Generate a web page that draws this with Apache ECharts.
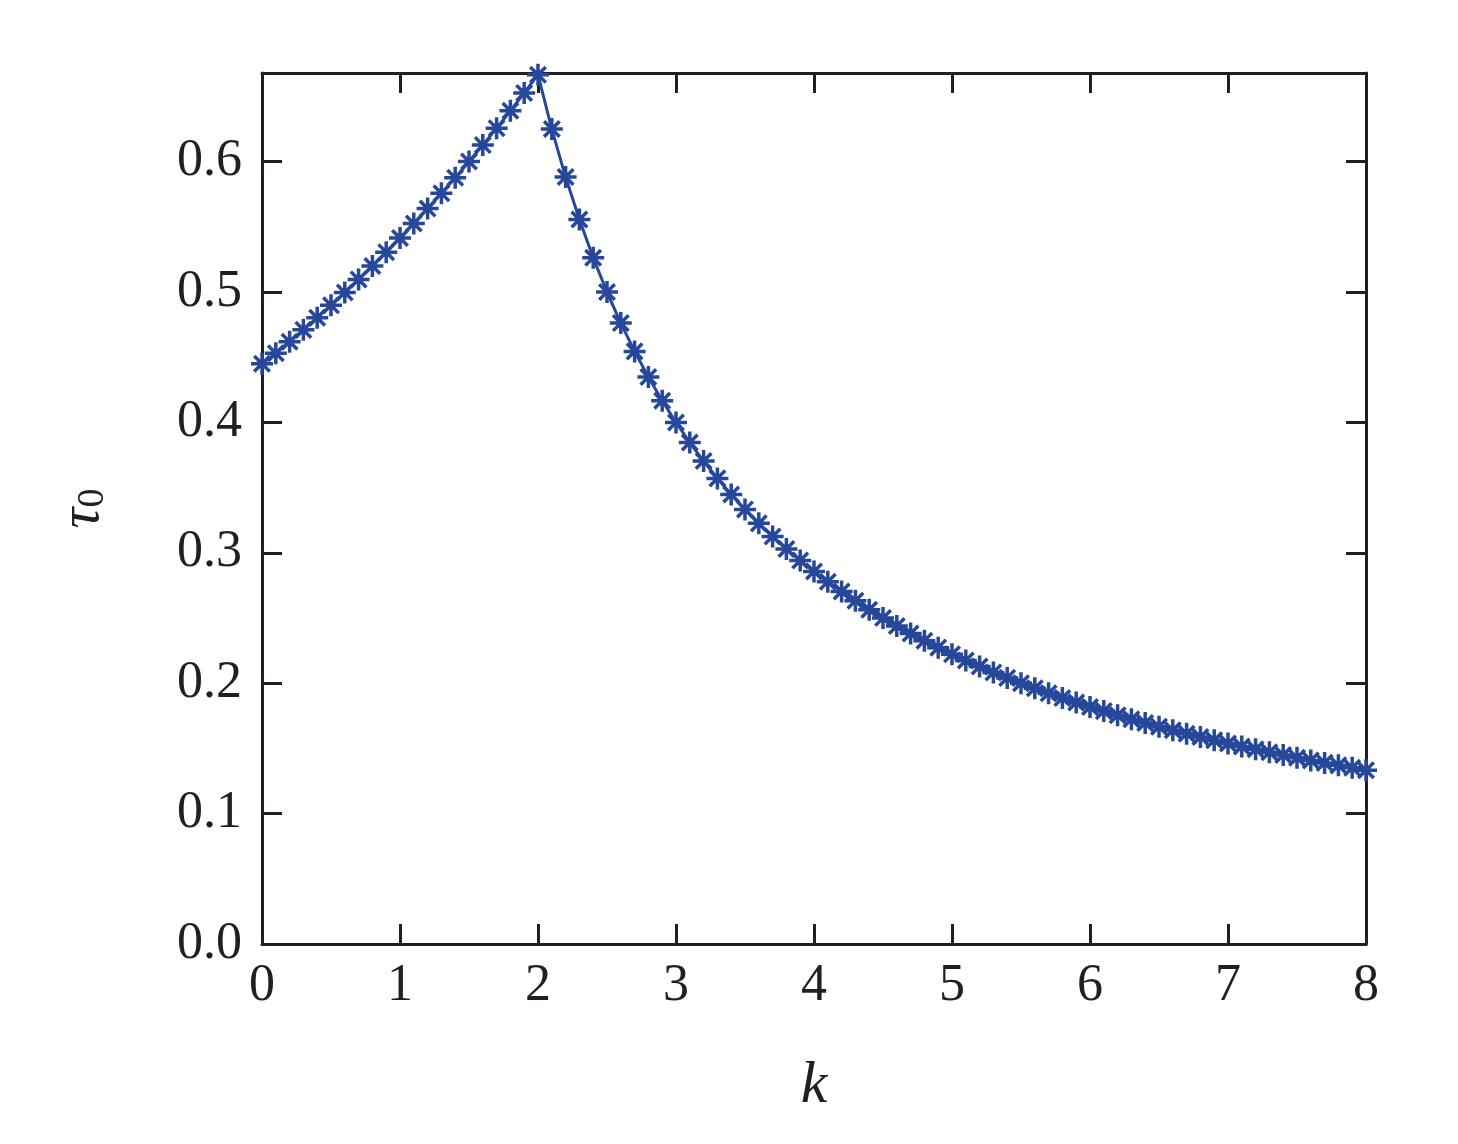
<!DOCTYPE html>
<html>
<head>
<meta charset="utf-8">
<script src="https://cdn.jsdelivr.net/npm/echarts@6/dist/echarts.min.js"></script>
<style>
html,body{margin:0;padding:0;background:#fff;}
#chart{width:1458px;height:1144px;}
</style>
</head>
<body>
<div id="chart"></div>
<script>
const kValues = [
  0.0,0.1,0.2,0.3,0.4,0.5,0.6,0.7,0.8,0.9,
  1.0,1.1,1.2,1.3,1.4,1.5,1.6,1.7,1.8,1.9,
  2.0,2.1,2.2,2.3,2.4,2.5,2.6,2.7,2.8,2.9,
  3.0,3.1,3.2,3.3,3.4,3.5,3.6,3.7,3.8,3.9,
  4.0,4.1,4.2,4.3,4.4,4.5,4.6,4.7,4.8,4.9,
  5.0,5.1,5.2,5.3,5.4,5.5,5.6,5.7,5.8,5.9,
  6.0,6.1,6.2,6.3,6.4,6.5,6.6,6.7,6.8,6.9,
  7.0,7.1,7.2,7.3,7.4,7.5,7.6,7.7,7.8,7.9,
  8.0
];
const tauValues = [
  0.445,0.4531,0.4619,0.4710,0.4803,0.4898,0.4996,0.5097,0.5200,0.5306,
  0.5414,0.5526,0.5640,0.5757,0.5877,0.6001,0.6127,0.6257,0.6390,0.6527,
  0.6667,0.6250,0.5882,0.5556,0.5263,0.5000,0.4762,0.4545,0.4348,0.4167,
  0.4000,0.3846,0.3704,0.3571,0.3448,0.3333,0.3226,0.3125,0.3030,0.2941,
  0.2857,0.2778,0.2703,0.2632,0.2564,0.2500,0.2439,0.2381,0.2326,0.2273,
  0.2222,0.2174,0.2128,0.2083,0.2041,0.2000,0.1961,0.1923,0.1887,0.1852,
  0.1818,0.1786,0.1754,0.1724,0.1695,0.1667,0.1639,0.1613,0.1587,0.1563,
  0.1538,0.1515,0.1493,0.1471,0.1449,0.1429,0.1408,0.1389,0.1370,0.1351,
  0.1333
];
const xTicks = [0,1,2,3,4,5,6,7,8];
const yTicks = [0.0,0.1,0.2,0.3,0.4,0.5,0.6];

const FONT = "'Liberation Serif','Times New Roman',serif";
const INK = '#231f20';
const BLUE = '#27479b';

const chart = echarts.init(document.getElementById('chart'), null, {renderer:'canvas'});
const mkLine = () => ({show:true, onZero:false, lineStyle:{color:INK, width:3}});
const mkTick = () => ({show:true, inside:true, length:20, lineStyle:{color:INK, width:3}});

const data = kValues.map((k,i)=>[k, tauValues[i]]);

chart.setOption({
  animation:false,
  backgroundColor:'#fff',
  grid:{left:262, right:92, top:73, bottom:200, containLabel:false},
  xAxis:[{
    type:'value', min:xTicks[0], max:xTicks[xTicks.length-1], interval:1,
    position:'bottom',
    axisLine:mkLine(), axisTick:mkTick(), splitLine:{show:false},
    axisLabel:{color:INK, fontFamily:FONT, fontSize:52, margin:16},
    name:'k', nameLocation:'middle', nameGap:112,
    nameTextStyle:{color:INK, fontFamily:FONT, fontSize:60, fontStyle:'italic'}
  },{
    type:'value', min:xTicks[0], max:xTicks[xTicks.length-1], interval:1,
    position:'top',
    axisLine:mkLine(), axisTick:mkTick(), axisLabel:{show:false}, splitLine:{show:false}
  }],
  yAxis:[{
    type:'value', min:yTicks[0], max:0.668, interval:0.1,
    position:'left',
    axisLine:mkLine(), axisTick:mkTick(), splitLine:{show:false},
    axisLabel:{color:INK, fontFamily:FONT, fontSize:52, margin:20, showMaxLabel:false,
      formatter:v=>v.toFixed(1)},
    name:'{t|τ}{s|0}', nameLocation:'middle', nameGap:150, nameRotate:90,
    nameTextStyle:{color:INK, fontFamily:FONT,
      rich:{
        t:{fontFamily:FONT, fontSize:58, fontStyle:'italic', color:INK},
        s:{fontFamily:FONT, fontSize:38, color:INK, verticalAlign:'bottom', padding:[18,0,0,0]}
      }}
  },{
    type:'value', min:yTicks[0], max:0.668, interval:0.1,
    position:'right',
    axisLine:mkLine(), axisTick:mkTick(), axisLabel:{show:false}, splitLine:{show:false}
  }],
  series:[{
    type:'line',
    xAxisIndex:0, yAxisIndex:0,
    data,
    clip:false,
    lineStyle:{color:BLUE, width:3},
    symbol:'path://M0,-10L0,10M-10,0L10,0M-7.07,-7.07L7.07,7.07M-7.07,7.07L7.07,-7.07',
    symbolSize:22,
    showAllSymbol:true,
    itemStyle:{color:'rgba(0,0,0,0)', borderColor:BLUE, borderWidth:3.5},
    z:5
  }]
});
</script>
</body>
</html>
